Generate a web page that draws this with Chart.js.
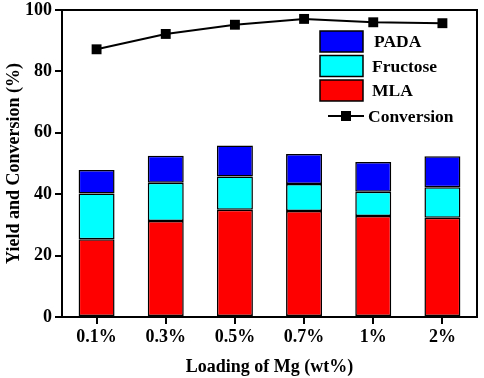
<!DOCTYPE html>
<html>
<head>
<meta charset="utf-8">
<script src="https://cdn.jsdelivr.net/npm/chart.js@4/dist/chart.umd.min.js"></script>
<style>
  html, body { margin: 0; padding: 0; background: #fff; }
  #wrap { width: 484px; height: 378px; }
</style>
</head>
<body>
<div id="wrap"><canvas id="chart" width="484" height="378"></canvas></div>
<script>
const categories = ["0.1%", "0.3%", "0.5%", "0.7%", "1%", "2%"];
const mla = [25.3, 31.3, 34.9, 34.5, 32.9, 32.3];
const fructose = [14.9, 12.4, 10.9, 8.8, 7.9, 10.0];
const pada = [7.7, 8.8, 10.1, 9.8, 9.7, 10.1];
const conversion = [87.2, 92.2, 95.2, 97.1, 96.0, 95.7];
const yTicks = [0, 20, 40, 60, 80, 100];

const FONT = "'Liberation Serif', 'Times New Roman', serif";

// box around the plot + legend drawn inside the plot area
const framePlugin = {
  id: "frame",
  afterDraw(chart) {
    const ctx = chart.ctx;
    const a = chart.chartArea;
    ctx.save();
    ctx.strokeStyle = "#000";
    ctx.lineWidth = 2;
    ctx.strokeRect(a.left, a.top, a.right - a.left, a.bottom - a.top);

    // legend
    const items = [
      { label: "PADA", color: "#0000ff" },
      { label: "Fructose", color: "#00ffff" },
      { label: "MLA", color: "#ff0000" }
    ];
    const bx = 320, bw = 43, bh = 21;
    ctx.font = "bold 17.5px " + FONT;
    ctx.textBaseline = "middle";
    ctx.fillStyle = "#000";
    items.forEach((it, i) => {
      const by = 31 + i * 24.5;
      ctx.fillStyle = it.color;
      ctx.fillRect(bx, by, bw, bh);
      ctx.lineWidth = 1.5;
      ctx.strokeStyle = "#000";
      ctx.strokeRect(bx, by, bw, bh);
      ctx.fillStyle = "#000";
      ctx.fillText(it.label, it.label === "PADA" ? 374 : 372, by + bh / 2 + 1);
    });
    const ly = 116;
    ctx.lineWidth = 2;
    ctx.beginPath();
    ctx.moveTo(328, ly);
    ctx.lineTo(364, ly);
    ctx.stroke();
    ctx.fillRect(341, ly - 5, 10, 10);
    ctx.fillText("Conversion", 368, ly + 1);
    ctx.restore();
  }
};

const barStyle = { borderColor: "#000", borderWidth: 1.5, borderSkipped: false,
  barPercentage: 0.52, categoryPercentage: 1.0, order: 1, stack: "yield" };

new Chart(document.getElementById("chart").getContext("2d"), {
  data: {
    labels: categories,
    datasets: [
      { type: "bar", label: "MLA", data: mla, backgroundColor: "#ff0000", ...barStyle },
      { type: "bar", label: "Fructose", data: fructose, backgroundColor: "#00ffff", ...barStyle },
      { type: "bar", label: "PADA", data: pada, backgroundColor: "#0000ff", ...barStyle },
      {
        type: "line", label: "Conversion", data: conversion, stack: "conv", order: 0,
        borderColor: "#000", borderWidth: 2, backgroundColor: "#000",
        pointStyle: "rect", pointRadius: 7, pointBorderWidth: 0, tension: 0
      }
    ]
  },
  options: {
    responsive: false,
    animation: false,
    layout: { padding: { top: 10, right: 4, left: 4, bottom: 0 } },
    plugins: { legend: { display: false }, tooltip: { enabled: false } },
    scales: {
      x: {
        stacked: true,
        grid: { drawOnChartArea: false, color: "#000", lineWidth: 2, tickLength: 7, offset: false },
        border: { color: "#000", width: 2 },
        ticks: { color: "#000", font: { family: FONT, size: 18, weight: "bold" }, padding: 3 },
        title: { display: true, text: "Loading of Mg (wt%)", color: "#000",
          font: { family: FONT, size: 18, weight: "bold" }, padding: { top: 5, bottom: 0 } },
        afterFit(s) { s.height = 61; }
      },
      y: {
        stacked: true,
        min: 0, max: 100,
        afterBuildTicks(s) { s.ticks = yTicks.map(v => ({ value: v })); },
        grid: { drawOnChartArea: false, color: "#000", lineWidth: 2, tickLength: 7 },
        border: { color: "#000", width: 2 },
        ticks: { color: "#000", font: { family: FONT, size: 18, weight: "bold" }, padding: 3 },
        title: { display: true, text: "Yield and Conversion (%)", color: "#000",
          font: { family: FONT, size: 18, weight: "bold" }, padding: { top: 0, bottom: 4 } },
        afterFit(s) { s.width = 58; s.paddingTop = 0; s.paddingBottom = 0; }
      }
    }
  },
  plugins: [framePlugin]
});
</script>
</body>
</html>
